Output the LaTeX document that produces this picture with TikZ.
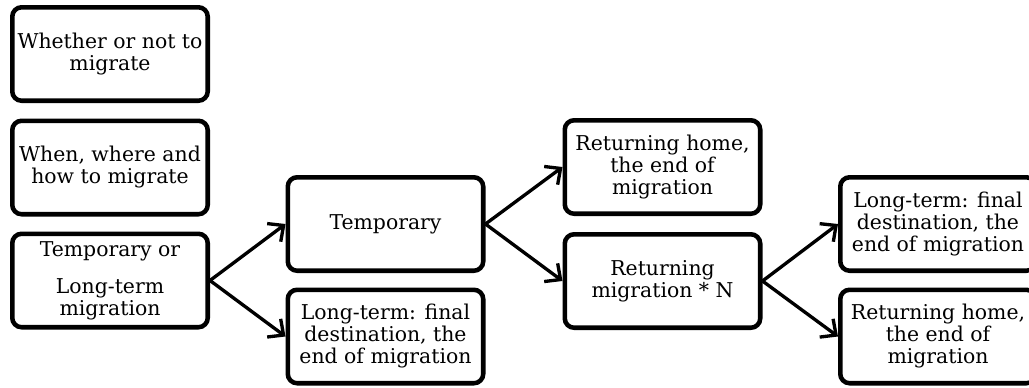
\documentclass[tikz,border=0pt]{standalone}
\usepackage{fontspec}
\setmainfont{DejaVu Serif}
\usepackage{tikz}
\usetikzlibrary{arrows.meta}

\begin{document}
\begin{tikzpicture}[x=0.75pt, y=-0.75pt,
  box/.style={draw, line width=3.4pt, rounded corners=7pt, align=center,
    minimum width=146.6pt, minimum height=70.1pt, inner sep=2pt,
    font=\fontsize{15.3}{16.5}\selectfont},
  link/.style={line width=2.5pt, -{Straight Barb[length=9pt, width=17pt]}}]
  \useasboundingbox (0,0) rectangle (1029,387);
  \clip (0,0) rectangle (1029,387);
  \node[box] (whether) at (110,54)    {Whether or not to\\migrate};
  \node[box] (when)    at (110,167.5) {When, where and\\how to migrate};
  \node[box] (choice)  at (110,280.5) {Temporary or\\[11pt]Long-term\\migration};
  \node[box] (temp)    at (385.5,224) {Temporary};
  \node[box] (long1)   at (385.5,336.5) {Long-term: final\\destination, the\\end of migration};
  \node[box] (home1)   at (662.5,167) {Returning home,\\the end of\\migration};
  \node[box] (ret)     at (662.5,281) {Returning\\migration * N};
  \node[box] (long2)   at (938,224)   {Long-term: final\\destination, the\\end of migration};
  \node[box] (home2)   at (938,336.5) {Returning home,\\the end of\\migration};
  \draw[link] (choice.east) -- (temp.west);
  \draw[link] (choice.east) -- (long1.west);
  \draw[link] (temp.east) -- (home1.west);
  \draw[link] (temp.east) -- (ret.west);
  \draw[link] (ret.east) -- (long2.west);
  \draw[link] (ret.east) -- (home2.west);
\end{tikzpicture}
\end{document}
